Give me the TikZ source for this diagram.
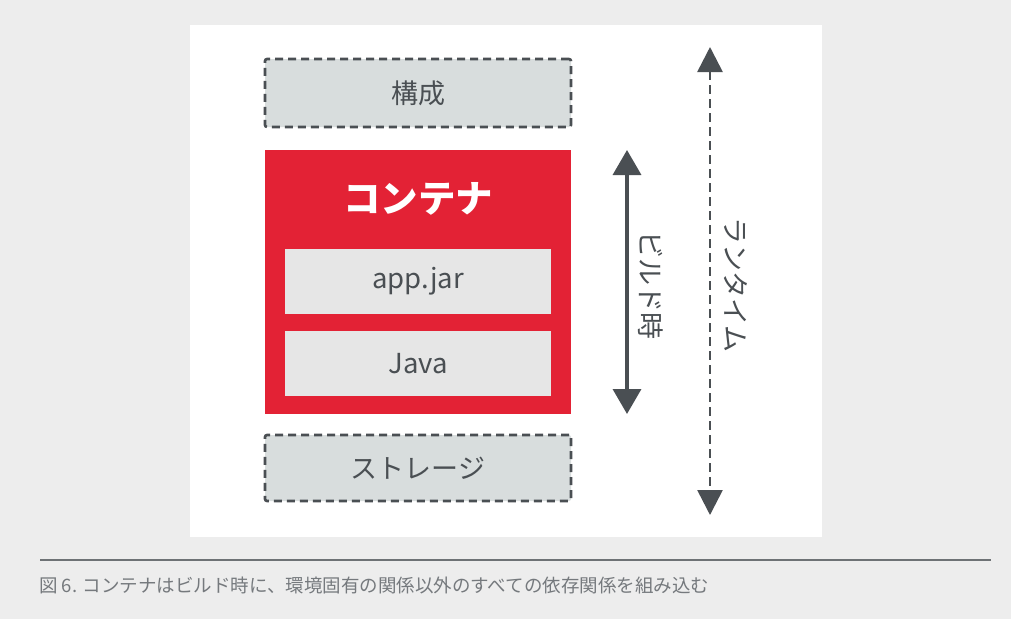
\documentclass[tikz,border=0pt]{standalone}
\usepackage{fontspec}
\setmainfont{Noto Sans CJK JP}
\usetikzlibrary{arrows.meta}
\definecolor{bggray}{HTML}{EDEDED}
\definecolor{boxgray}{HTML}{D8DDDD}
\definecolor{innergray}{HTML}{E6E6E6}
\definecolor{redc}{HTML}{E32235}
\definecolor{darkc}{HTML}{4A4F53}
\definecolor{capc}{HTML}{75797D}
\tikzset{
  dashbox/.style={draw=darkc, fill=boxgray, line width=2.6pt, dash pattern=on 8pt off 5pt, rounded corners=2pt, minimum width=306pt, minimum height=68pt, inner sep=0pt, text=darkc, font=\fontsize{27pt}{30pt}\selectfont},
  innerbox/.style={fill=innergray, minimum width=266pt, minimum height=65pt, inner sep=0pt, text=darkc, font=\fontsize{27.5pt}{30pt}\selectfont},
  redbox/.style={fill=redc, minimum width=306pt, minimum height=264pt, inner sep=0pt},
  arr/.style={darkc, line width=3.5pt, {Triangle[width=28pt,length=25pt]}-{Triangle[width=28pt,length=25pt]}},
  darr/.style={darkc, line width=2.6pt, dash pattern=on 9pt off 5pt, {Triangle[width=25pt,length=25pt]}-{Triangle[width=25pt,length=25pt]}},
  sidelabel/.style={rotate=-90, text=darkc, font=\fontsize{27pt}{30pt}\selectfont, inner sep=0pt}
}
\begin{document}
\begin{tikzpicture}[x=1pt,y=-1pt]
\useasboundingbox (0,0) rectangle (1011,619);
\fill[bggray] (0,0) rectangle (1011,619);
\fill[white] (190,25) rectangle (822,537);
\node[dashbox] (config) at (418,93) {構成};
\node[redbox] (container) at (418,282) {};
\node[text=white, font=\bfseries\fontsize{37.5pt}{40pt}\selectfont] (ctitle) at (418,199) {コンテナ};
\node[innerbox] (app) at (418,281.5) {app.jar};
\node[innerbox] (java) at (418,363.5) {Java};
\node[dashbox, minimum height=66pt] (storage) at (418,468) {ストレージ};
\coordinate (btop) at (627,150);
\coordinate (bbot) at (627,414);
\draw[arr] (btop) -- (bbot);
\node[sidelabel] (build) at (651,285) {ビルド時};
\coordinate (rtop) at (710,47);
\coordinate (rbot) at (710,515);
\draw[darr] (rtop) -- (rbot);
\node[sidelabel] (runtime) at (736,285) {ランタイム};
\coordinate (la) at (40,560);
\coordinate (lb) at (991,560);
\draw[darkc!80, line width=1.2pt] (la) -- (lb);
\node[anchor=west, text=capc, font=\fontsize{18.5pt}{20pt}\selectfont, inner sep=0pt] (caption) at (39,585) {図 6. コンテナはビルド時に、環境固有の関係以外のすべての依存関係を組み込む};
\end{tikzpicture}
\end{document}
